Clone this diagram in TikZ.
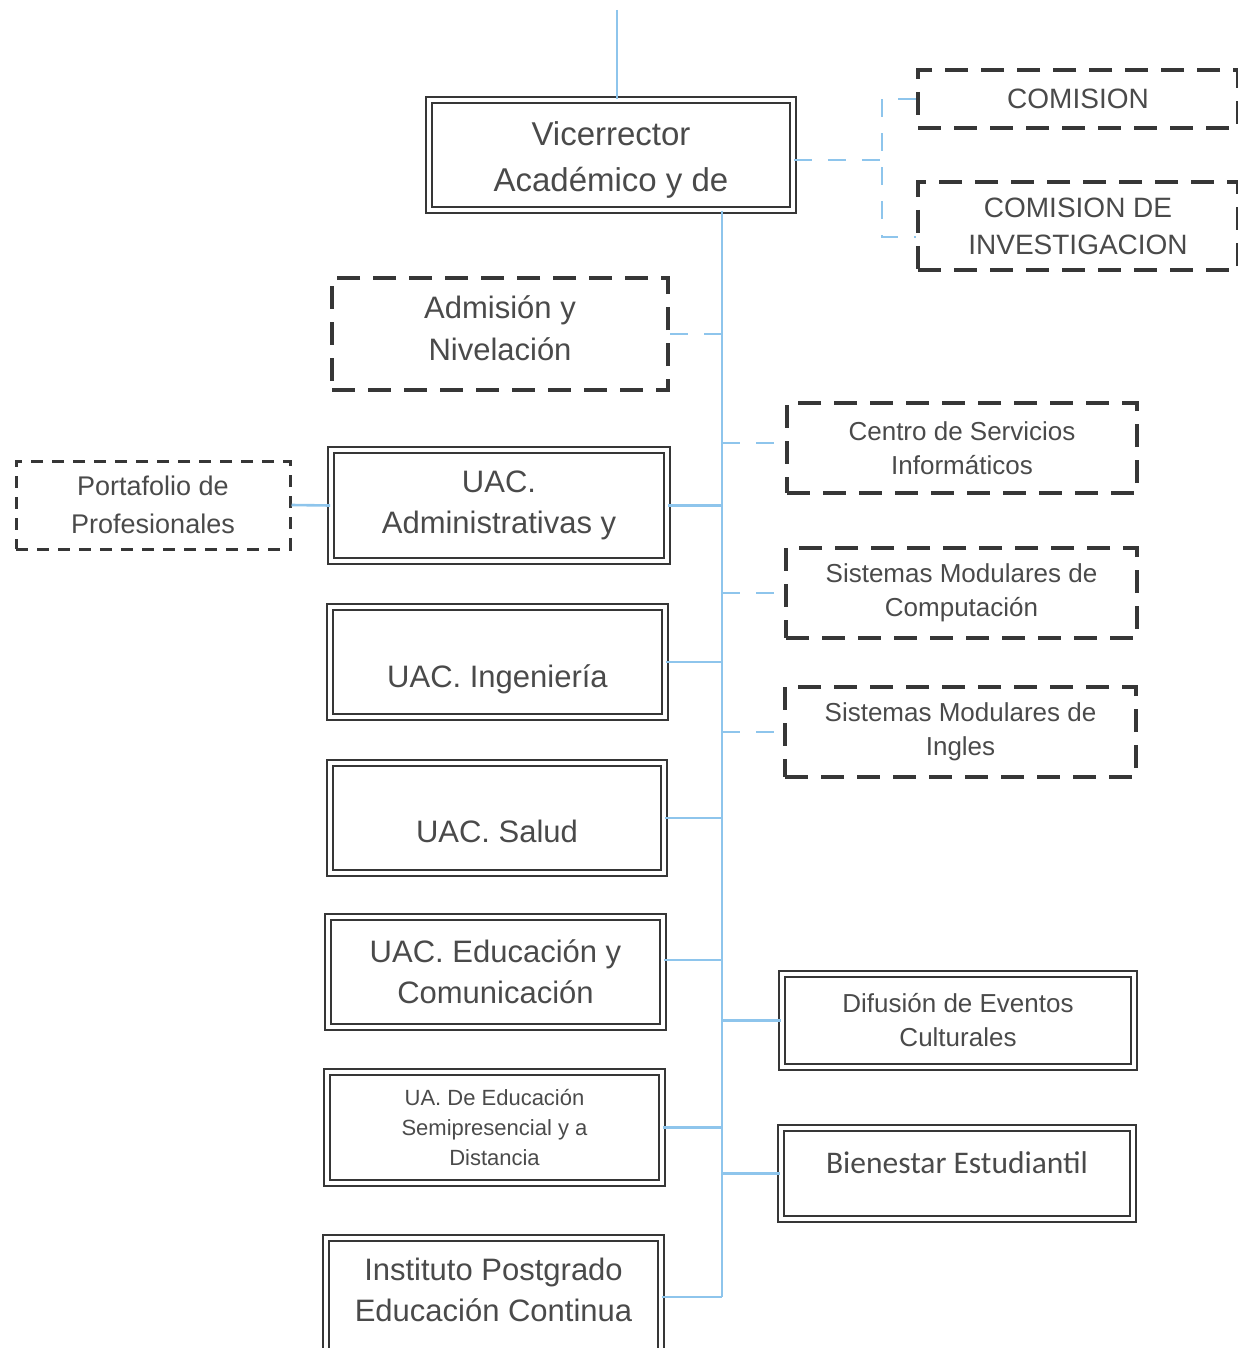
\documentclass[tikz,border=0pt]{standalone}
\usepackage{fontspec}
\setmainfont{Liberation Sans}
\newfontfamily\calibri{Carlito}
\usepackage{tikz}
\definecolor{linkblue}{HTML}{8EC5EC}
\definecolor{boxgray}{HTML}{363636}
\definecolor{textgray}{HTML}{4A4A4A}
\begin{document}
\begin{tikzpicture}[x=1pt,y=-1pt,
      every node/.style={inner sep=0pt,align=center,text=textgray},
      mainbox/.style={draw=boxgray,double=white,double distance=4pt,line width=1.8pt,
        font=\fontsize{31}{41}\selectfont},
      dashbox/.style={draw=boxgray,line width=4.5pt,dash pattern=on 23pt off 13pt,
        font=\fontsize{26}{34}\selectfont},
      smalldash/.style={draw=boxgray,line width=3pt,dash pattern=on 12pt off 9pt,
        font=\fontsize{27}{38}\selectfont},
      link/.style={draw=linkblue,line width=2.6pt},
      dashlink/.style={draw=linkblue,line width=2.6pt,dash pattern=on 18pt off 16pt}]
    \useasboundingbox (0,0) rectangle (1238,1348);
    % left column
    \node[mainbox,minimum width=364pt,minimum height=110pt,
      font=\fontsize{33}{46}\selectfont,text height=80pt] (vice) at (611,155)
      {Vicerrector\\Académico y de};
    \node[dashbox,minimum width=336pt,minimum height=112pt,
      font=\fontsize{31}{42}\selectfont,text height=53pt] (adm) at (500,334)
      {Admisión y\\Nivelación};
    \node[mainbox,minimum width=336pt,minimum height=111pt] (uadm) at (499,505.5)
      {UAC.\\Administrativas y};
    \node[smalldash,minimum width=274pt,minimum height=88pt] (port) at (153,505)
      {Portafolio de\\Profesionales};
    \node[mainbox,minimum width=335pt,minimum height=110pt,
      text height=56pt,text depth=6pt] (uing) at (497.5,662) {UAC. Ingeniería};
    \node[mainbox,minimum width=334pt,minimum height=110pt,
      text height=54pt,text depth=6pt] (usal) at (497,818) {UAC. Salud};
    \node[mainbox,minimum width=335pt,minimum height=110pt] (uedu) at (495.5,972)
      {UAC. Educación y\\Comunicación};
    \node[mainbox,minimum width=335pt,minimum height=111pt,
      font=\fontsize{22}{30}\selectfont] (usemi) at (494.5,1127.5)
      {UA. De Educación\\Semipresencial y a\\Distancia};
    \node[mainbox,minimum width=335pt,minimum height=118pt,text height=49pt] (uinst)
      at (493.5,1297) {Instituto Postgrado\\Educación Continua};
    % right column
    \node[dashbox,minimum width=320pt,minimum height=58pt,
      font=\fontsize{28}{37}\selectfont] (com1) at (1078,99) {COMISION};
    \node[dashbox,minimum width=320pt,minimum height=88pt,
      font=\fontsize{28}{37}\selectfont] (com2) at (1078,226) {COMISION DE\\INVESTIGACION};
    \node[dashbox,minimum width=350pt,minimum height=90pt] (csi) at (962,448)
      {Centro de Servicios\\Informáticos};
    \node[dashbox,minimum width=351pt,minimum height=90pt] (smc) at (961.5,593)
      {Sistemas Modulares de\\Computación};
    \node[dashbox,minimum width=351pt,minimum height=90pt] (smi) at (960.5,732)
      {Sistemas Modulares de\\Ingles};
    \node[mainbox,minimum width=352pt,minimum height=93pt,
      font=\fontsize{26}{34}\selectfont] (dif) at (958,1020.5)
      {Difusión de Eventos\\Culturales};
    \node[mainbox,minimum width=352pt,minimum height=91pt,
      font=\calibri\fontsize{31.5}{38}\selectfont,
      text height=12pt,text depth=12pt] (bien) at (957,1173.5) {Bienestar Estudiantil};
    % connectors
    \coordinate (top) at (617,10);
    \coordinate (tb) at (722,1297);
    \coordinate (cj) at (882,160);
    \draw[link] (top) -- (top |- vice.north);
    \draw[link] (vice.south -| tb) -- (tb);
    \draw[link] (uadm.east) -- (uadm.east -| tb);
    \draw[link] (uing.east) -- (uing.east -| tb);
    \draw[link] (usal.east) -- (usal.east -| tb);
    \draw[link] ([yshift=12pt]uedu.east) -- ([yshift=12pt]uedu.east -| tb);
    \draw[link] (usemi.east) -- (usemi.east -| tb);
    \draw[link] (uinst.east) -- (tb);
    \draw[link] (dif.west -| tb) -- (dif.west);
    \draw[link] (bien.west -| tb) -- (bien.west);
    \draw[link] (port.east) -- (uadm.west);
    \draw[dashlink] (adm.east) -- (adm.east -| tb);
    \draw[dashlink] ([yshift=5pt]csi.west -| tb) -- ([yshift=5pt]csi.west);
    \draw[dashlink] (smc.west -| tb) -- (smc.west);
    \draw[dashlink] (smi.west -| tb) -- (smi.west);
    \draw[dashlink] (vice.east |- cj) -- (cj);
    \draw[dashlink] (com1.west) -| (cj) |- ([yshift=-11pt]com2.west);
\end{tikzpicture}
\end{document}
